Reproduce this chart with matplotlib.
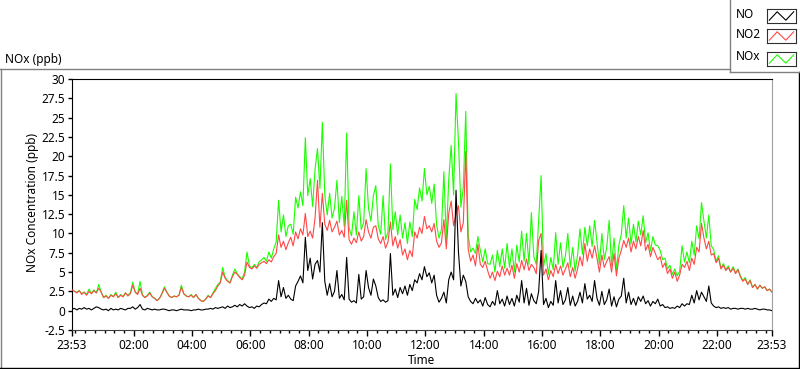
import numpy as np
import matplotlib
matplotlib.use("Agg")
import matplotlib.pyplot as plt
from matplotlib.lines import Line2D

plt.rcParams["font.family"] = ["Noto Sans", "DejaVu Sans"]

# --- data (ppb), one sample every 5 min starting 23:53 ---
START = "23:53"
STEP_MIN = 5
TICK_LABELS = ["23:53", "02:00", "04:00", "06:00", "08:00", "10:00", "12:00",
               "14:00", "16:00", "18:00", "20:00", "22:00", "23:53"]
SERIES = ["NO", "NO2", "NOx"]
COLORS = {"NO": "#000000", "NO2": "#ff4848", "NOx": "#1aff00"}

no2_ppb = [
    2.7, 2.5, 2.3, 2.6, 2.1, 2.4, 2.0, 2.5, 2.2, 2.6, 2.3, 2.9,
    2.4, 1.7, 1.9, 1.6, 2.0, 1.8, 2.2, 1.7, 2.0, 1.8, 2.3, 1.9,
    2.2, 3.3, 2.4, 2.1, 2.9, 2.0, 1.7, 1.9, 2.3, 1.8, 1.6, 1.3,
    1.6, 2.2, 2.9, 2.4, 1.9, 1.7, 1.9, 1.8, 2.0, 3.0, 2.2, 1.9,
    1.8, 2.0, 1.7, 2.1, 1.6, 1.3, 1.2, 1.5, 1.9, 1.7, 2.2, 2.6,
    3.2, 3.6, 5.0, 4.2, 3.8, 3.6, 4.4, 5.0, 4.7, 4.3, 4.0, 4.6,
    6.3, 5.6, 5.4, 5.8, 5.5, 6.0, 6.2, 6.4, 6.1, 6.6, 6.3, 7.0,
    7.4, 9.8, 8.2, 9.0, 7.9, 8.8, 9.5, 8.4, 10.2, 9.3, 10.6, 9.8,
    12.6, 9.6, 10.3, 9.4, 12.0, 16.9, 10.8, 15.2, 11.2, 10.4, 11.7, 10.2,
    10.8, 11.6, 9.8, 10.4, 9.5, 14.3, 9.2, 8.6, 9.4, 8.8, 10.2, 9.0,
    9.6, 11.8, 10.2, 9.4, 10.8, 11.0, 9.3, 8.7, 9.6, 8.1, 8.9, 11.5,
    8.4, 9.6, 8.1, 9.2, 7.2, 8.0, 6.6, 7.8, 7.0, 10.2, 9.4, 10.8,
    10.0, 12.2, 10.6, 11.0, 10.2, 11.3, 9.0, 8.2, 8.8, 11.8, 8.0, 12.6,
    14.2, 11.0, 12.5, 13.6, 10.2, 11.4, 20.6, 8.0, 6.4, 7.2, 5.8, 8.6,
    6.0, 5.6, 6.4, 5.2, 4.2, 5.0, 3.9, 5.1, 4.4, 5.8, 4.6, 5.5,
    4.6, 5.9, 4.2, 6.1, 5.0, 6.5, 5.3, 6.7, 5.2, 6.0, 5.6, 4.8,
    9.1, 10.0, 4.6, 5.4, 4.0, 5.2, 4.4, 6.0, 4.8, 5.8, 4.6, 5.4,
    6.2, 4.4, 5.6, 4.2, 5.4, 7.0, 5.8, 8.7, 6.4, 8.0, 6.8, 8.4,
    6.8, 5.0, 7.2, 5.6, 6.4, 7.0, 5.0, 7.4, 4.5, 6.8, 7.8, 9.1,
    8.2, 9.4, 7.6, 9.0, 8.0, 9.6, 8.4, 10.4, 7.8, 8.6, 7.0, 8.2,
    7.4, 6.6, 7.0, 5.6, 6.2, 4.8, 5.4, 4.2, 5.0, 3.8, 4.6, 6.0,
    5.6, 6.4, 5.2, 6.8, 6.0, 8.2, 7.6, 11.3, 9.4, 8.0, 9.0, 7.2,
    7.4, 6.2, 6.8, 5.4, 5.9, 5.2, 5.6, 5.0, 5.5, 4.8, 5.3, 4.4,
    3.8, 4.1, 3.4, 3.9, 3.0, 3.4, 2.8, 3.3, 2.9, 3.1, 2.6, 2.8, 2.4,
]

no_ppb = [
    0.2, 0.3, 0.1, 0.3, 0.2, 0.4, 0.2, 0.3, 0.1, 0.3, 0.5, 0.4,
    0.2, 0.1, 0.2, 0.0, 0.3, 0.1, 0.2, 0.1, 0.3, 0.2, 0.1, 0.3,
    0.3, 0.5, 0.2, 0.4, 0.8, 0.2, 0.1, 0.3, 0.2, 0.1, 0.2, 0.1,
    0.1, 0.2, 0.2, 0.1, 0.0, 0.1, 0.1, 0.0, 0.1, 0.2, 0.1, 0.1,
    0.1, 0.0, 0.1, 0.1, 0.2, 0.1, 0.1, 0.2, 0.2, 0.3, 0.2, 0.4,
    0.3, 0.4, 0.5, 0.3, 0.6, 0.4, 0.5, 0.7, 0.5, 0.8, 0.6, 0.9,
    0.6, 0.4, 0.5, 0.3, 0.6, 0.5, 0.8, 1.0, 0.9, 1.5, 1.2, 1.6,
    1.4, 3.9, 1.8, 3.0, 1.6, 2.0, 1.5, 1.3, 3.2, 3.8, 4.5, 3.6,
    9.5, 5.2, 6.8, 4.1, 6.0, 6.5, 5.0, 11.4, 3.8, 2.0, 3.5, 1.8,
    2.5, 5.2, 1.6, 2.1, 1.4, 6.9, 1.5, 1.1, 1.3, 1.0, 4.7, 1.5,
    1.8, 5.2, 3.0, 2.0, 4.1, 3.2, 1.7, 1.2, 1.4, 1.1, 1.3, 7.4,
    2.0, 2.8, 1.7, 3.0, 2.2, 3.2, 2.0, 3.4, 2.6, 4.0, 3.6, 4.8,
    4.0, 5.7, 4.4, 4.9, 3.6, 4.6, 2.0, 1.1, 1.6, 2.4, 1.0, 4.0,
    5.0, 4.0, 15.6, 7.6, 3.2, 4.6, 3.8, 1.8, 1.2, 0.9, 1.6, 1.0,
    1.4, 0.6, 1.7, 0.8, 0.5, 1.2, 0.7, 2.6, 0.9, 1.5, 0.6, 1.9,
    0.8, 1.6, 0.6, 2.0, 1.1, 3.9, 1.0, 2.9, 0.7, 2.2, 1.3, 0.9,
    2.5, 7.8, 0.8, 1.6, 0.4, 1.2, 0.7, 3.9, 1.0, 2.6, 0.8, 1.4,
    3.0, 0.7, 1.9, 0.6, 1.2, 2.4, 1.0, 3.5, 1.5, 2.0, 1.2, 3.9,
    1.6, 0.7, 2.5, 0.8, 1.4, 2.8, 0.6, 1.8, 0.5, 1.5, 1.9, 4.2,
    1.0, 2.4, 0.8, 1.6, 0.7, 1.8, 1.2, 1.9, 0.9, 1.3, 0.6, 1.2,
    0.9, 1.5, 0.6, 0.8, 0.4, 0.5, 0.3, 0.4, 0.3, 0.6, 0.4, 0.9,
    0.6, 0.9, 0.8, 2.0, 1.0, 2.6, 1.4, 2.4, 1.8, 1.2, 3.2, 1.0,
    0.6, 0.4, 0.5, 0.3, 0.4, 0.3, 0.4, 0.2, 0.3, 0.3, 0.2, 0.3,
    0.3, 0.2, 0.3, 0.2, 0.2, 0.3, 0.2, 0.1, 0.2, 0.2, 0.1, 0.1, 0.0,
]

nox_ppb = [
    2.8, 2.5, 2.4, 2.6, 2.2, 2.4, 2.1, 2.8, 2.2, 2.7, 2.3, 3.4,
    2.4, 1.7, 2.0, 1.6, 2.1, 1.8, 2.4, 1.7, 2.1, 1.8, 2.3, 2.0,
    2.3, 3.7, 2.4, 2.2, 3.8, 2.0, 1.7, 2.0, 2.4, 1.8, 1.6, 1.3,
    1.6, 2.2, 3.1, 2.4, 1.9, 1.7, 1.9, 1.8, 2.0, 3.3, 2.2, 1.9,
    1.8, 2.1, 1.7, 2.1, 1.6, 1.3, 1.2, 1.5, 2.0, 1.7, 2.3, 2.9,
    3.4, 3.7, 5.6, 4.3, 3.9, 3.6, 4.6, 5.4, 4.8, 4.4, 4.1, 5.0,
    7.6, 5.8, 5.5, 6.0, 5.6, 6.3, 6.6, 6.9, 6.4, 7.6, 6.8, 8.0,
    8.9, 14.3, 10.2, 12.4, 9.6, 11.0, 11.2, 9.9, 14.7, 13.3, 15.4, 13.6,
    22.4, 14.9, 17.1, 13.5, 18.3, 21.0, 15.8, 24.4, 15.0, 12.4, 15.2, 12.0,
    13.3, 16.9, 11.4, 14.8, 10.9, 23.0, 10.7, 9.7, 12.8, 9.8, 14.9, 10.5,
    11.4, 18.4, 13.2, 11.6, 14.9, 16.2, 11.0, 9.9, 14.9, 9.2, 10.2, 19.0,
    10.5, 12.8, 9.8, 12.4, 9.4, 11.4, 8.7, 11.5, 9.6, 14.4, 13.1, 15.9,
    14.2, 18.4, 15.0, 16.1, 13.9, 16.4, 11.1, 9.4, 10.5, 18.0, 9.2, 17.0,
    21.4, 15.0, 28.1, 21.9, 13.4, 16.0, 25.8, 9.8, 7.6, 8.1, 7.4, 9.6,
    7.8, 6.3, 8.0, 6.1, 6.0, 7.2, 5.0, 7.8, 5.7, 8.0, 5.5, 8.7,
    5.6, 8.0, 5.0, 8.5, 6.3, 10.3, 6.4, 10.0, 6.0, 12.7, 7.0, 6.0,
    11.7, 17.5, 5.7, 7.4, 4.7, 6.9, 5.3, 10.1, 6.0, 8.8, 5.6, 7.1,
    10.0, 5.6, 8.2, 5.1, 7.2, 10.6, 7.3, 10.8, 8.4, 11.0, 8.3, 11.7,
    8.8, 6.0, 10.0, 6.6, 8.2, 11.7, 5.8, 9.4, 5.2, 8.5, 9.9, 13.6,
    9.4, 12.0, 8.6, 11.2, 8.9, 11.6, 9.8, 12.3, 8.8, 10.1, 7.7, 9.6,
    8.5, 8.4, 7.8, 6.6, 6.8, 5.4, 5.9, 4.7, 5.4, 4.5, 5.1, 8.4,
    6.3, 7.6, 6.2, 9.0, 7.2, 11.0, 9.3, 14.0, 11.6, 9.4, 12.4, 8.4,
    7.9, 6.4, 7.1, 5.5, 6.1, 5.3, 5.8, 5.0, 5.7, 4.9, 5.4, 4.5,
    3.9, 4.3, 3.4, 4.0, 3.0, 3.4, 2.8, 3.3, 2.9, 3.1, 2.6, 2.8, 2.4,
]


def minutes_from_start(hhmm, last=False):
    h, m = map(int, hhmm.split(":"))
    sh, sm = map(int, START.split(":"))
    d = (h * 60 + m - (sh * 60 + sm)) % 1440
    return 1440 if (last and d == 0) else d


W, H = 800, 369
fig = plt.figure(figsize=(W / 100, H / 100), dpi=100)
fig.patch.set_facecolor("white")


def fx(px):
    return px / W


def fy(py):
    return 1 - py / H


ax = fig.add_axes([fx(72), fy(330), fx(700), (330 - 79) / H])
t = np.arange(len(no_ppb)) * STEP_MIN

data = {"NO": no_ppb, "NO2": no2_ppb, "NOx": nox_ppb}
for z, name in enumerate(["NOx", "NO2", "NO"]):
    ax.plot(t, data[name], color=COLORS[name], lw=0.8, zorder=2 + z)

ax.set_xlim(0, 1440)
ax.set_ylim(-2.5, 30)
yt = np.arange(-2.5, 30.01, 2.5)
ax.set_yticks(yt)
ax.set_yticklabels([f"{v:g}" for v in yt])
xt = [minutes_from_start(l, last=(i == len(TICK_LABELS) - 1)) for i, l in enumerate(TICK_LABELS)]
ax.set_xticks(xt)
ax.set_xticklabels(TICK_LABELS)
ax.set_xticks(np.arange(minutes_from_start("00:00"), 1440, 20), minor=True)
ax.tick_params(axis="y", length=3, width=1, pad=2, labelsize=8.5)
ax.tick_params(axis="x", which="major", length=4.5, width=1, pad=2, labelsize=8.5)
ax.tick_params(axis="x", which="minor", length=2.5, width=1)
for s in ["left", "top"]:
    ax.spines[s].set_color("black")
ax.spines["right"].set_color("#a0a0a0")
ax.spines["bottom"].set_color("#404040")

fig.text(fx(5), fy(59), "NOx (ppb)", ha="left", va="center", fontsize=8.5)
fig.text(fx(33), fy(202), "NOx Concentration (ppb)", rotation=90,
         ha="center", va="center", fontsize=8.5)
fig.text(fx(422), fy(360), "Time", ha="center", va="center", fontsize=8.5)


# frame lines (LabVIEW-ish)
def seg(x0, y0, x1, y1, color, lw=1.0):
    fig.add_artist(Line2D([fx(x0), fx(x1)], [fy(y0), fy(y1)], color=color, lw=lw,
                          transform=fig.transFigure))


seg(0, 69, 730, 69, "#808080")
seg(1, 69, 1, 368, "#808080")
seg(0, 367.5, 799, 367.5, "black")
seg(798.5, 72, 798.5, 368, "black")
seg(730, 0, 730, 72, "#808080")
seg(730, 72, 799, 72, "#808080")

# legend entries
leg_rows = [(16, "NO"), (36, "NO2"), (59, "NOx")]
for yc, name in leg_rows:
    fig.text(fx(736), fy(yc - 2), name, ha="left", va="center", fontsize=8.5)
    lax = fig.add_axes([fx(767), fy(yc + 7), fx(29), 14 / H])
    lax.set_xlim(0, 1)
    lax.set_ylim(0, 1)
    lax.plot([0.08, 0.35, 0.65, 0.92], [0.2, 0.8, 0.2, 0.8], color=COLORS[name], lw=0.8)
    lax.set_xticks([])
    lax.set_yticks([])
    for s in lax.spines.values():
        s.set_color("#303030")

fig.savefig("out.png", dpi=100)
